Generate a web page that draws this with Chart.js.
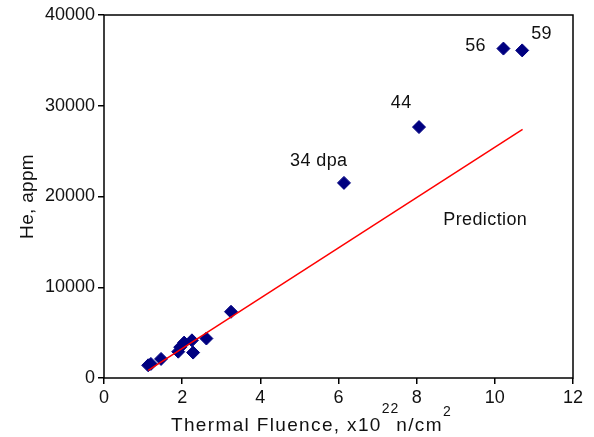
<!DOCTYPE html>
<html>
<head>
<meta charset="utf-8">
<script src="https://cdn.jsdelivr.net/npm/chart.js@4/dist/chart.umd.min.js"></script>
<style>
  body { margin: 0; background: #fff; }
  canvas { display: block; }
</style>
</head>
<body>
<canvas id="myChart" width="594" height="437"></canvas>
<script>
// measured He vs thermal fluence
const fluence = [1.13, 1.2, 1.46, 1.9, 1.95, 2.05, 2.25, 2.28, 2.62, 3.25, 6.14, 8.06, 10.22, 10.7];
const helium = [1400, 1550, 2100, 2900, 3400, 3900, 4150, 2800, 4350, 7300, 21500, 27650, 36300, 36100];

// prediction line
const predFluence = [1.13, 10.71];
const predHelium = [850, 27400];

const xTicks = [0, 2, 4, 6, 8, 10, 12];
const yTicks = [0, 10000, 20000, 30000, 40000];

// text notes, placed in data coordinates (left edge, baseline)
const noteText = ['34 dpa', '44', '56', '59', 'Prediction'];
const noteX = [4.76, 7.34, 9.24, 10.93, 8.68];
const noteY = [23360, 29750, 36030, 37355, 16860];

const FONT = '"Liberation Sans", Arial, Helvetica, sans-serif';

const points = fluence.map((x, i) => ({ x: x, y: helium[i] }));
const predLine = predFluence.map((x, i) => ({ x: x, y: predHelium[i] }));

const framePlugin = {
    id: 'frame',
    afterDraw(chart) {
        const ctx = chart.ctx;
        const a = chart.chartArea;
        const xs = chart.scales.x, ys = chart.scales.y;
        ctx.save();
        ctx.strokeStyle = '#000';
        ctx.lineWidth = 1.5;
        ctx.strokeRect(a.left, a.top, a.right - a.left, a.bottom - a.top);

        ctx.fillStyle = '#111';
        ctx.font = '18px ' + FONT;
        ctx.letterSpacing = '0.4px';
        ctx.textAlign = 'left';
        ctx.textBaseline = 'alphabetic';
        noteText.forEach((t, i) => {
            ctx.fillText(t, xs.getPixelForValue(noteX[i]), ys.getPixelForValue(noteY[i]));
        });

        // x title with superscripts
        let x = 171;
        const base = 431;
        ctx.font = '19px ' + FONT;
        ctx.letterSpacing = '1.35px';
        ctx.fillText('Thermal Fluence, x10', x, base);
        x += ctx.measureText('Thermal Fluence, x10').width;
        ctx.font = '14px ' + FONT;
        ctx.letterSpacing = '1px';
        ctx.fillText('22', x, base - 18);
        x += ctx.measureText('22').width - 3;
        ctx.font = '19px ' + FONT;
        ctx.letterSpacing = '1.35px';
        ctx.fillText('n/cm', x, base);
        x += ctx.measureText('n/cm').width;
        ctx.font = '14px ' + FONT;
        ctx.fillText('2', x, base - 15);

        // y title
        ctx.font = '19px ' + FONT;
        ctx.letterSpacing = '0.3px';
        ctx.translate(33, (a.top + a.bottom) / 2);
        ctx.rotate(-Math.PI / 2);
        ctx.textAlign = 'center';
        ctx.fillText('He, appm', 0, 0);
        ctx.restore();
    }
};

const ctx = document.getElementById('myChart').getContext('2d');
new Chart(ctx, {
    type: 'scatter',
    data: {
        datasets: [{
            label: 'Prediction',
            data: predLine,
            showLine: true,
            borderColor: '#ff0000',
            borderWidth: 1.5,
            pointRadius: 0,
            fill: false
        }, {
            label: 'He',
            data: points,
            pointStyle: 'rectRot',
            pointRadius: 6.5,
            backgroundColor: '#000080',
            borderColor: '#000080',
            borderWidth: 1
        }]
    },
    options: {
        responsive: false,
        animation: false,
        layout: { padding: { left: 0, top: 15, right: 21, bottom: 0 } },
        plugins: {
            legend: { display: false },
            tooltip: { enabled: false }
        },
        scales: {
            x: {
                type: 'linear',
                min: 0,
                max: 12,
                afterBuildTicks: s => { s.ticks = xTicks.map(v => ({ value: v })); },
                afterFit: s => { s.height = 59; },
                ticks: { color: '#111', font: { family: FONT, size: 18 }, padding: 3, maxRotation: 0 },
                grid: { drawOnChartArea: false, tickLength: 6, color: '#000', lineWidth: 1.5 },
                border: { display: false }
            },
            y: {
                min: 0,
                max: 40000,
                afterBuildTicks: s => { s.ticks = yTicks.map(v => ({ value: v })); },
                afterFit: s => { s.width = 104; },
                ticks: { color: '#111', font: { family: FONT, size: 18 }, padding: 3, callback: v => String(v) },
                grid: { drawOnChartArea: false, tickLength: 6, color: '#000', lineWidth: 1.5 },
                border: { display: false }
            }
        }
    },
    plugins: [framePlugin]
});
</script>
</body>
</html>
